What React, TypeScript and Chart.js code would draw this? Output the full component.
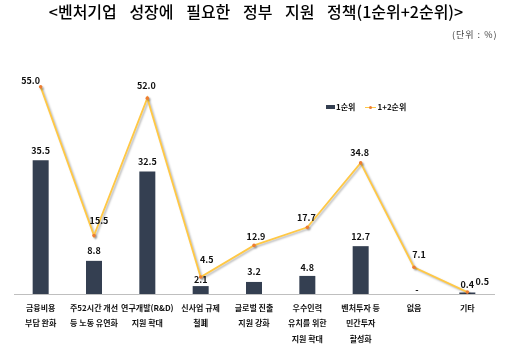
import React, { useEffect, useRef } from "react";
import { Chart, registerables } from "chart.js";

Chart.register(...registerables);

const categories: string[][] = [
  ["금융비용", "부담 완화"],
  ["주52시간 개선", "등 노동 유연화"],
  ["연구개발(R&D)", "지원 확대"],
  ["신사업 규제", "철폐"],
  ["글로벌 진출", "지원 강화"],
  ["우수인력", "유치를 위한", "지원 확대"],
  ["벤처투자 등", "민간투자", "활성화"],
  ["없음"],
  ["기타"],
];
const rank1 = [35.5, 8.8, 32.5, 2.1, 3.2, 4.8, 12.7, 0, 0.4];
const rank1Labels = ["35.5", "8.8", "32.5", "2.1", "3.2", "4.8", "12.7", "-", "0.4"];
const rank12 = [55.0, 15.5, 52.0, 4.5, 12.9, 17.7, 34.8, 7.1, 0.5];
const rank12Labels = ["55.0", "15.5", "52.0", "4.5", "12.9", "17.7", "34.8", "7.1", "0.5"];

// label offsets (pixels) relative to each mark
const barLabelOffsets: [number, number][] = [
  [0, -10], [0, -10], [0, -10], [0, -7], [0, -10], [0, -8], [0, -10], [3, -4], [0, -8],
];
const lineLabelOffsets: [number, number][] = [
  [-10, -6], [5, -15], [-1, -13], [6, -17], [2, -9], [-1, -10], [-1, -10], [5, -13], [15, -11],
];

const BAR_COLOR = "#343F51";
const LINE_COLOR = "#FFC845";
const POINT_COLOR = "#ED7D31";
const FONT = "'Noto Sans CJK KR', 'Noto Sans', sans-serif";

const labelPlugin = {
  id: "valueLabels",
  beforeDatasetDraw(chart: any, args: any) {
    if (args.index === 1) {
      const ctx = chart.ctx;
      ctx.save();
      ctx.shadowColor = "rgba(0,0,0,0.28)";
      ctx.shadowBlur = 2;
      ctx.shadowOffsetX = 1.5;
      ctx.shadowOffsetY = 1.5;
    }
  },
  afterDatasetDraw(chart: any, args: any) {
    if (args.index === 1) chart.ctx.restore();
  },
  afterDatasetsDraw(chart: any) {
    const ctx = chart.ctx;
    ctx.save();
    ctx.font = `bold 9px ${FONT}`;
    ctx.fillStyle = "#111";
    ctx.textAlign = "center";
    ctx.textBaseline = "middle";
    const barMeta = chart.getDatasetMeta(0);
    barMeta.data.forEach((el: any, i: number) => {
      const [dx, dy] = barLabelOffsets[i];
      ctx.fillText(rank1Labels[i], el.x + dx, el.y + dy);
    });
    const lineMeta = chart.getDatasetMeta(1);
    lineMeta.data.forEach((el: any, i: number) => {
      const [dx, dy] = lineLabelOffsets[i];
      ctx.fillText(rank12Labels[i], el.x + dx, el.y + dy);
    });
    ctx.restore();
  },
};

export default function App() {
  const ref = useRef<HTMLCanvasElement | null>(null);
  useEffect(() => {
    if (!ref.current) return;
    const chart = new Chart(ref.current, {
      type: "bar",
      data: {
        labels: categories as any,
        datasets: [
          {
            type: "bar",
            label: "1순위",
            data: rank1,
            backgroundColor: BAR_COLOR,
            categoryPercentage: 1,
            barPercentage: 0.3,
            order: 2,
          },
          {
            type: "line",
            label: "1+2순위",
            data: rank12,
            borderColor: LINE_COLOR,
            borderWidth: 1.8,
            pointRadius: 1.8,
            pointBackgroundColor: POINT_COLOR,
            pointBorderColor: POINT_COLOR,
            pointBorderWidth: 0,
            tension: 0,
            order: 1,
          } as any,
        ],
      },
      options: {
        responsive: false,
        animation: false,
        devicePixelRatio: 1,
        layout: { padding: { left: 14, right: 18, top: 68, bottom: 0 } },
        plugins: { legend: { display: false }, tooltip: { enabled: false } },
        scales: {
          y: { display: false, min: 0, max: 60 },
          x: {
            grid: { display: false, drawTicks: false },
            border: { display: true, color: "#BFBFBF", width: 1 },
            ticks: {
              padding: 6,
              color: "#111",
              maxRotation: 0,
              autoSkip: false,
              font: { family: FONT, size: 8, weight: "bold", lineHeight: 1.95 },
            },
            afterFit(scale: any) {
              scale.height = 64;
            },
          },
        },
      },
      plugins: [labelPlugin],
    });
    return () => chart.destroy();
  }, []);

  return (
    <div style={{ position: "fixed", left: 0, top: 0, width: 512, height: 358, background: "#fff", fontFamily: FONT }}>
      <canvas ref={ref} width={512} height={358} style={{ position: "absolute", left: 0, top: 0 }} />
      <div
        style={{
          position: "absolute", left: 0, top: 1, width: 512, textAlign: "center",
          fontSize: 16, color: "#000", wordSpacing: 9, lineHeight: "20px", fontWeight: 500,
        }}
      >
        &lt;벤처기업 성장에 필요한 정부 지원 정책(1순위+2순위)&gt;
      </div>
      <div style={{ position: "absolute", left: 452, top: 28, fontSize: 9, color: "#444", letterSpacing: 1, lineHeight: "14px" }}>
        (단위 : %)
      </div>
      <div style={{ position: "absolute", left: 326, top: 100, display: "flex", alignItems: "center", fontSize: 8, fontWeight: "bold", color: "#111", lineHeight: "14px" }}>
        <span style={{ display: "inline-block", width: 9, height: 4, background: BAR_COLOR, marginRight: 1 }} />
        <span>1순위</span>
        <span style={{ position: "relative", display: "inline-block", width: 11, height: 1, background: LINE_COLOR, marginLeft: 10, marginRight: 1 }}>
          <span style={{ position: "absolute", left: 4, top: -1, width: 3, height: 3, borderRadius: 2, background: POINT_COLOR }} />
        </span>
        <span>1+2순위</span>
      </div>
    </div>
  );
}
